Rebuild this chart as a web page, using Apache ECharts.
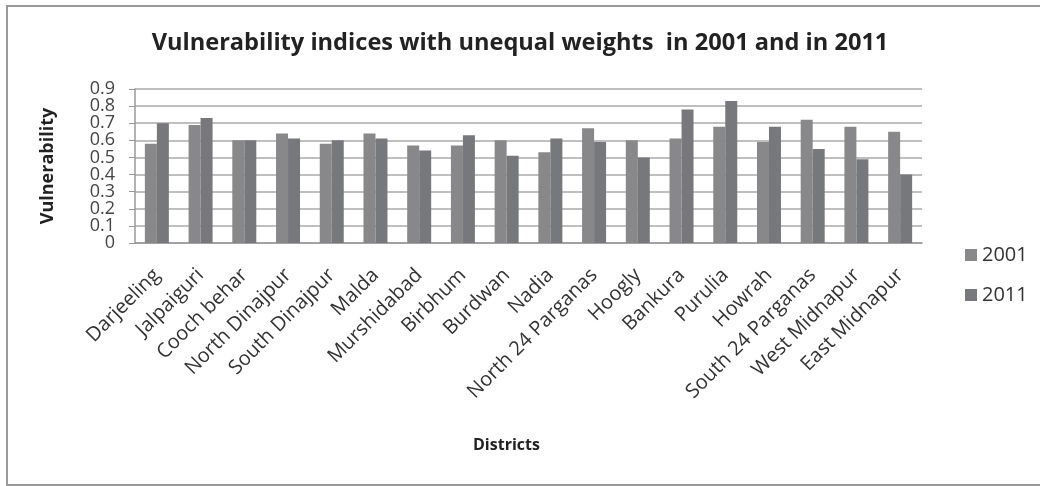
<!DOCTYPE html>
<html>
<head>
<meta charset="utf-8">
<script src="https://cdn.jsdelivr.net/npm/echarts@6/dist/echarts.min.js"></script>
<style>html,body{margin:0;padding:0;background:#fff;}#c{width:1040px;height:486px;}</style>
</head>
<body>
<div id="c"></div>
<script>
const districts = ['Darjeeling','Jalpaiguri','Cooch behar','North Dinajpur','South Dinajpur','Malda','Murshidabad','Birbhum','Burdwan','Nadia','North 24 Parganas','Hoogly','Bankura','Purulia','Howrah','South 24 Parganas','West Midnapur','East Midnapur'];
const values2001 = [0.58,0.69,0.60,0.64,0.58,0.64,0.57,0.57,0.60,0.53,0.67,0.60,0.61,0.68,0.59,0.72,0.68,0.65];
const values2011 = [0.70,0.73,0.60,0.61,0.60,0.61,0.54,0.63,0.51,0.61,0.59,0.50,0.78,0.83,0.68,0.55,0.49,0.40];
const seriesNames = ['2001','2011'];
const yTicksA = ['0','0.2','0.3','0.4','0.5','0.6','0.7','0.9'];
const yTicksB = ['0.1','0.8'];
const titleText = 'Vulnerability indices with unequal weights  in 2001 and in 2011';

const chart = echarts.init(document.getElementById('c'));
const font = '"Open Sans", sans-serif';
const fmt = list => v => { const s = (Math.round(v*10)/10).toString(); return list.indexOf(s) >= 0 ? s : ''; };
const labelStyle = {fontFamily: font, fontSize: 18, color: '#444', margin: 20, interval: 0, hideOverlap: false, showMinLabel: true, showMaxLabel: true};
chart.setOption({
  animation: false,
  backgroundColor: '#fff',
  textStyle: {fontFamily: font},
  title: {
    text: titleText, left: 'center', top: 26,
    textStyle: {fontFamily: font, fontSize: 23.6, fontWeight: 'bold', color: '#222'}
  },
  legend: {
    orient: 'vertical', left: 960, top: 240,
    itemWidth: 12, itemHeight: 12, itemGap: 20, icon: 'rect',
    textStyle: {fontFamily: font, fontSize: 20, color: '#333'},
    data: seriesNames
  },
  grid: {left: 135, right: 118, top: 89, bottom: 243, containLabel: false},
  xAxis: {
    type: 'category', data: districts,
    axisLine: {lineStyle: {color: '#999', width: 1.5}},
    axisTick: {show: false},
    axisLabel: {rotate: 45, interval: 0, fontFamily: font, fontSize: 20, color: '#333', margin: 29}
  },
  yAxis: [{
    type: 'value', min: 0, max: 0.9, interval: 0.1, position: 'left',
    name: 'Vulnerability', nameLocation: 'middle', nameGap: 78,
    nameTextStyle: {fontFamily: font, fontSize: 18, fontWeight: 'bold', color: '#222'},
    axisLine: {show: true, lineStyle: {color: '#999', width: 1.5}},
    axisTick: {show: true, length: 6, lineStyle: {color: '#999'}},
    axisLabel: Object.assign({formatter: fmt(yTicksA)}, labelStyle),
    splitLine: {lineStyle: {color: '#aaa', width: 1.5}}
  }, {
    type: 'value', min: 0, max: 0.9, interval: 0.1, position: 'left', offset: 0,
    axisLine: {show: false}, axisTick: {show: false}, splitLine: {show: false},
    axisLabel: Object.assign({formatter: fmt(yTicksB)}, labelStyle)
  }],
  series: [
    {name: seriesNames[0], type: 'bar', yAxisIndex: 0, data: values2001, barWidth: 12, barGap: '0%',
     itemStyle: {color: '#88888a'}},
    {name: seriesNames[1], type: 'bar', yAxisIndex: 0, data: values2011, barWidth: 12,
     itemStyle: {color: '#77787c'}}
  ],
  graphic: [
    {type: 'rect', shape: {x: 7, y: 6, width: 1200, height: 479}, style: {fill: 'none', stroke: '#999', lineWidth: 2}, silent: true},
    {type: 'text', left: 473, top: 437, style: {text: 'Districts', font: 'bold 16px ' + font, fill: '#222'}}
  ]
});
</script>
</body>
</html>
